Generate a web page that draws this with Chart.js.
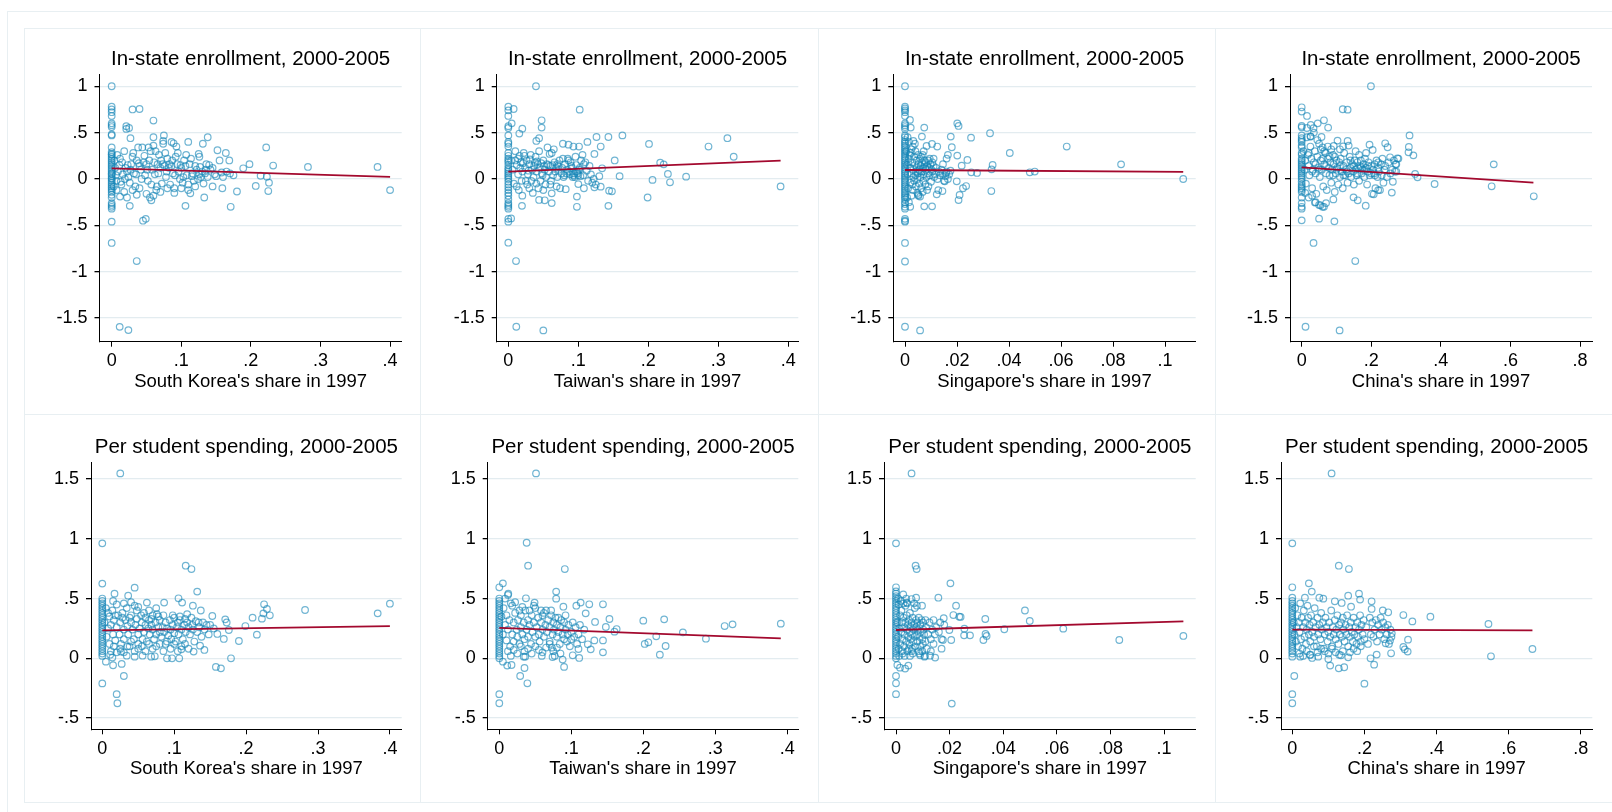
<!DOCTYPE html>
<html>
<head>
<meta charset="utf-8">
<title>Asian shares and outcomes</title>
<script src="https://cdn.jsdelivr.net/npm/chart.js@4.4.1/dist/chart.umd.min.js"></script>
<style>
  body { margin: 0; background: #fff; }
  .frame { position: absolute; border: 1.5px solid #e8eff2; box-sizing: border-box; }
  canvas { position: absolute; }
</style>
</head>
<body>
<div class="frame" style="left:7px; top:11px; width:1620px; height:810px;"></div>
<div id="wrap"></div>
<script>
// tick labels
const enrollTicks = [-1.5, -1, -.5, 0, .5, 1];
const spendTicks = [-.5, 0, .5, 1, 1.5];
const koreaTicks = [0, .1, .2, .3, .4];
const taiwanTicks = [0, .1, .2, .3, .4];
const singTicks = [0, .02, .04, .06, .08, .1];
const chinaTicks = [0, .2, .4, .6, .8];

// In-state enrollment vs share (x, y)
const enrollKorea = [
  [0,1.0],[0,.78],[0,.75],[0,.72],[0,.68],[0,.6],[0,.58],[0,.56],[0,.48],[0,.47],[0,.34],[0,.29],[0,.27],[0,.26],[0,.24],[0,.22],[0,.2],[0,.18],[0,.16],[0,.14],[0,.12],[0,.1],[0,.08],[0,.06],[0,.05],[0,.03],[0,.01],[0,0],[0,-.02],[0,-.04],[0,-.06],[0,-.08],[0,-.1],[0,-.12],[0,-.14],[0,-.17],[0,-.2],[0,-.26],[0,-.28],[0,-.3],[0,-.32],[0,-.46],[0,-.69],
  [.021,.57],[.025,.55],[.021,.54],[.03,.75],[.04,.755],[.06,.63],[.027,.44],[.06,.45],[.075,.47],[.138,.45],[.11,.40],[.131,.38],[.074,.41],[.086,.40],[.089,.385],[.093,.35],[.222,.34],[.152,.31],[.164,.28],[.169,.20],[.125,.27],[.126,.24],[.198,.16],[.189,.115],[.232,.145],[.282,.13],[.382,.13],[.40,-.12],[.207,-.075],[.223,.025],[.214,.035],[.226,-.04],[.225,-.13],[.18,-.135],[.159,-.10],[.145,-.08],[.133,-.20],[.171,-.30],[.106,-.29],[.113,-.155],[.036,-.17],[.045,-.45],[.049,-.43],[.036,-.885],[.0115,-1.595],[.024,-1.63],[.026,-.29],[.057,-.23],[.012,-.19],[.007,-.12],
  [.008,.26],[.012,.22],[.015,.18],[.018,.3],[.02,.12],[.022,.08],[.024,.02],[.026,-.04],[.028,.16],[.03,.24],[.032,.06],[.034,-.08],[.036,.2],[.038,.34],[.04,.14],[.042,.1],[.044,.34],[.046,.18],[.048,.04],[.05,.16],[.052,-.02],[.054,.2],[.056,.3],[.058,.1],[.06,.36],[.062,.05],[.064,-.12],[.066,.16],[.068,.26],[.07,.12],[.072,-.05],[.074,.38],[.076,.14],[.078,.02],[.08,.22],[.082,.12],[.084,-.06],[.086,.14],[.088,.06],[.09,-.1],[.092,.24],[.094,.16],[.096,.08],[.098,0],[.1,.12],[.102,-.04],[.104,.2],[.106,.14],[.108,.04],[.11,-.06],[.112,.16],[.114,.22],[.116,.06],[.118,-.02],[.12,.14],[.122,.1],[.124,0],[.126,.05],[.128,.02],[.13,.08],[.132,-.05],[.134,.06],[.136,.16],[.138,.02],[.14,.15],[.142,.1],[.145,.12],[.148,.05],[.15,.03],[.155,.2],[.158,.07],[.16,.02],[.165,.08],[.17,.06],[.175,.04],
  [.014,-.06],[.018,-.14],[.022,-.2],[.03,-.12],[.04,-.1],[.05,-.16],[.055,-.2],[.06,-.18],[.065,-.08],[.07,-.14],[.08,-.1],[.09,-.15],[.1,-.1],[.11,-.12],[.12,-.08],[.016,.05],[.019,0],[.023,.15],[.027,.1],[.031,.28],[.035,.05],[.039,.17],[.043,0],[.047,.25],[.051,.1],[.053,.34],[.057,-.06],[.061,.18],[.063,.3],[.067,.06],[.071,.2],[.073,.16],[.077,.28],[.079,.08],[.083,.16],[.087,.2],[.091,.04],[.095,.28],[.099,.15],[.103,.02],[.107,.26],[.115,.03],[.127,.13],[.135,.1],[.005,.12],[.006,.04],[.007,-.02],[.009,.08],[.011,.15],[.013,-.03],[.003,-.08],[.004,.2]
];
const enrollTaiwan = [
  [0,.78],[0,.74],[0,.68],[0,.57],[0,.55],[0,.47],[0,.4],[0,.38],[0,.35],[0,.28],[0,.25],[0,.22],[0,.2],[0,.18],[0,.15],[0,.12],[0,.1],[0,.08],[0,.06],[0,.04],[0,.02],[0,0],[0,-.03],[0,-.06],[0,-.09],[0,-.12],[0,-.15],[0,-.18],[0,-.22],[0,-.26],[0,-.28],[0,-.3],[0,-.32],[0,-.46],[0,-.43],[0,-.687],
  [.0395,1.0],[.0076,.755],[.102,.748],[.0476,.633],[.0476,.554],[.0048,.60],[.02,.543],[.0157,.49],[.044,.44],[.040,.41],[.126,.453],[.143,.453],[.163,.47],[.113,.40],[.132,.35],[.078,.38],[.086,.37],[.093,.35],[.101,.35],[.201,.378],[.286,.35],[.313,.44],[.322,.24],[.217,.176],[.222,.158],[.152,.20],[.123,.27],[.134,.115],[.159,.03],[.206,-.01],[.228,.054],[.231,-.036],[.254,.025],[.389,-.08],[.199,-.20],[.143,-.29],[.144,-.126],[.148,-.133],[.132,-.083],[.123,-.09],[.098,-.19],[.098,-.30],[.108,-.10],[.10,-.055],[.062,-.26],[.062,-.155],[.052,-.23],[.044,-.226],[.0195,-.29],[.004,-.425],[.011,-.885],[.0114,-1.594],[.05,-1.633],
  [.004,.2],[.006,.1],[.008,-.05],[.01,.3],[.012,.15],[.014,.05],[.015,-.12],[.016,.25],[.018,.18],[.02,.08],[.02,-.18],[.022,.28],[.024,.12],[.025,-.02],[.026,.2],[.028,.05],[.03,.16],[.03,-.1],[.032,.26],[.034,.1],[.035,-.15],[.036,.02],[.038,.18],[.04,.08],[.04,-.05],[.042,.16],[.044,.3],[.045,.12],[.046,-.02],[.048,.06],[.05,.2],[.05,-.12],[.052,.1],[.054,.02],[.055,.16],[.056,.34],[.058,.08],[.06,.14],[.06,-.06],[.062,.28],[.064,.04],[.066,.18],[.068,.12],[.07,.16],[.07,.02],[.072,.1],[.074,-.1],[.076,.06],[.078,.22],[.08,.04],[.082,-.11],[.084,.1],[.086,.2],[.088,.05],[.09,.14],[.092,.02],[.094,.06],[.096,.24],[.098,.08],[.1,.04],[.102,.12],[.104,.2],[.106,.26],[.108,.16],[.11,.18],[.112,.09],[.114,-.02],[.116,.14],[.118,.05],[.12,-.04],[.122,0],[.125,-.06],[.13,.03],
  [.01,.2],[.012,-.08],[.014,.22],[.017,.12],[.019,-.02],[.021,.17],[.023,.25],[.027,-.06],[.029,.09],[.031,.21],[.033,-.02],[.037,.14],[.039,.24],[.041,.19],[.043,-.1],[.047,.17],[.049,.04],[.051,.14],[.053,-.06],[.057,.15],[.059,.27],[.061,-.02],[.063,.15],[.065,.32],[.067,.08],[.069,-.08],[.071,.14],[.073,.2],[.077,.12],[.079,.02],[.081,.16],[.083,.06],[.085,.22],[.087,.08],[.089,.18],[.091,.12],[.093,.04],[.095,.02],[.097,.15],[.099,.06],[.101,.1],[.103,.03],[.107,.04]
];
const enrollSing = [
  [0,1.0],[0,.78],[0,.76],[0,.74],[0,.72],[0,.68],[0,.6],[0,.58],[0,.56],[0,.54],[0,.47],[0,.45],[0,.42],[0,.4],[0,.38],[0,.36],[0,.34],[0,.32],[0,.3],[0,.28],[0,.26],[0,.24],[0,.22],[0,.2],[0,.18],[0,.16],[0,.14],[0,.12],[0,.1],[0,.08],[0,.06],[0,.04],[0,.02],[0,0],[0,-.02],[0,-.04],[0,-.06],[0,-.08],[0,-.1],[0,-.12],[0,-.14],[0,-.16],[0,-.18],[0,-.2],[0,-.22],[0,-.25],[0,-.27],[0,-.3],[0,-.32],[0,-.43],[0,-.45],[0,-.46],[0,-.69],[0,-.89],[0,-1.594],
  [.0019,.637],[.0022,.554],[.0074,.554],[.0065,.457],[.0032,.41],[.0083,.356],[.0104,.378],[.0124,.35],[.0201,.60],[.0206,.572],[.0176,.457],[.018,.342],[.0254,.446],[.0327,.493],[.0403,.28],[.0622,.35],[.0831,.158],[.107,0],[.0337,.151],[.0333,.104],[.024,.205],[.0201,.252],[.0218,.144],[.0255,.072],[.0277,.065],[.048,.072],[.0499,.08],[.0332,-.13],[.0199,-.025],[.0235,-.076],[.0223,-.10],[.021,-.173],[.0206,-.227],[.0144,-.13],[.0122,-.166],[.0128,-.12],[.0074,-.295],[.0104,-.295],[.0058,-.19],[.0051,-.17],[.0165,.26],[.016,.22],[.011,.22],[.0146,.16],[.0158,.065],[.0153,-.025],[.0058,-1.633],
  [.0005,.3],[.0008,.15],[.001,.05],[.0012,-.1],[.0015,.4],[.0015,.22],[.002,.12],[.002,-.04],[.0022,.28],[.0025,.06],[.0028,.18],[.003,-.12],[.003,.35],[.0032,.1],[.0035,.24],[.0035,-.02],[.0038,.15],[.004,.04],[.004,.3],[.0042,-.08],[.0045,.2],[.0045,.12],[.0048,-.15],[.005,.26],[.005,.06],[.0052,.16],[.0055,-.05],[.0055,.1],[.0058,.22],[.006,.02],[.006,.14],[.0062,-.1],[.0065,.18],[.0065,.08],[.0068,.26],[.007,.12],[.007,-.02],[.0072,.05],[.0075,.2],[.0075,.16],[.0078,-.06],[.008,.1],[.008,.18],[.0082,.02],[.0085,.14],[.0088,.06],[.009,-.08],[.009,.2],[.0092,.12],[.0095,.04],[.0098,.16],[.01,-.03],[.0102,.1],[.0105,.08],[.011,.14],[.0112,.02],[.0115,.05],[.012,.12],[.0125,0],[.013,.08],[.0135,.04],[.014,.1],[.0145,.06],[.015,-.02],[.0155,.03],[.016,.08],[.0165,0],[.017,.05],[.0175,.09],
  [.0012,.18],[.0018,.26],[.0025,.32],[.0028,-.06],[.0032,.02],[.0038,.38],[.0042,.08],[.0048,0],[.0052,-.18],[.0058,.08],[.0062,.24],[.0068,-.14],[.0072,.3],[.0078,.12],[.0085,-.12],[.0095,.22],[.0105,.18],[.0008,-.2],[.0015,-.25],[.002,-.3],[.0025,-.18],[.001,.45]
];
const enrollChina = [
  [0,.773],[0,.727],[0,.572],[0,.557],[0,.47],[0,.44],[0,.42],[0,.4],[0,.36],[0,.34],[0,.28],[0,.26],[0,.22],[0,.2],[0,.18],[0,.16],[0,.14],[0,.12],[0,.1],[0,.08],[0,.06],[0,.04],[0,.02],[0,0],[0,-.03],[0,-.06],[0,-.08],[0,-.1],[0,-.12],[0,-.14],[0,-.2],[0,-.26],[0,-.3],[0,-.32],[0,-.446],
  [.199,1.0],[.118,.752],[.132,.748],[.0153,.68],[.064,.633],[.076,.554],[.046,.60],[.026,.583],[.034,.547],[.026,.457],[.31,.47],[.057,.453],[.103,.414],[.132,.41],[.119,.352],[.092,.356],[.195,.37],[.204,.313],[.24,.385],[.247,.342],[.308,.345],[.307,.288],[.321,.255],[.275,.223],[.272,.158],[.254,.234],[.326,.054],[.333,.018],[.382,-.054],[.552,.158],[.546,-.079],[.667,-.187],[.259,-.147],[.184,-.288],[.149,-.198],[.161,-.23],[.22,-.12],[.207,-.165],[.094,-.457],[.05,-.428],[.034,-.69],[.154,-.885],[.011,-1.594],[.109,-1.633],[.038,-.255],[.064,-.3],[.054,-.284],[.091,-.22],
  [.005,.3],[.008,.1],[.01,.2],[.012,-.05],[.015,.45],[.018,.26],[.02,.14],[.022,.04],[.025,.35],[.028,.22],[.03,-.1],[.032,.1],[.035,.18],[.038,.3],[.04,.06],[.042,-.16],[.045,.24],[.048,.12],[.05,.38],[.052,.02],[.055,.2],[.058,.1],[.06,.34],[.062,-.08],[.065,.16],[.068,.28],[.07,.06],[.072,-.12],[.075,.22],[.078,.12],[.08,.04],[.082,.18],[.085,-.04],[.088,.1],[.09,.26],[.092,.16],[.095,-.14],[.098,.06],[.1,.2],[.102,.12],[.105,-.06],[.108,.18],[.11,.02],[.112,.22],[.115,.08],[.118,-.1],[.12,.14],[.122,.28],[.125,.04],[.128,.1],[.13,.18],[.132,-.04],[.135,.06],[.138,.24],[.14,.12],[.142,.02],[.145,.16],[.148,.08],[.15,-.06],[.152,.2],[.155,.1],[.158,.04],[.16,.18],[.162,.12],[.165,-.02],[.168,.14],[.17,.2],[.172,.06],[.175,.1],[.178,.16],[.18,.02],[.182,.22],[.185,.12],[.188,-.06],[.19,.08],[.192,.18],[.195,.04],[.2,.14],[.202,-.16],[.205,.1],[.208,.06],[.21,.16],[.212,-.1],[.215,.2],[.218,.02],[.22,.12],[.222,.08],[.225,-.12],[.228,.16],[.23,.04],[.232,.22],[.235,-.04],[.238,.1],[.24,.14],[.245,.02],[.25,.18],[.255,.06],[.26,.1],[.262,-.03],[.265,.2],[.268,.08],[.27,.16],[.272,.08],[.278,.22],
  [.01,-.15],[.02,-.2],[.03,-.18],[.04,-.25],[.05,-.28],[.06,-.3],[.07,-.26],[.015,.55],[.025,.46],[.035,.5],[.045,.42],[.055,.32],[.065,.3],[.075,.35],[.085,.32],[.095,.24],[.11,.32],[.135,.36],[.155,.3],[.165,.26],[.185,.28],[.02,.28],[.03,.08],[.04,.16],[.05,.1],[.06,.22],[.07,.14],[.08,.24],[.09,.04],[.1,.1],[.11,.14],[.12,.04],[.13,.08],[.14,.2],[.15,.14],[.16,.06],[.17,.12],[.18,.1],[.19,.14],[.2,.06],[.21,.04],[.22,.18]
];

// Per student spending vs share (x, y)
const spendKorea = [
  [0,.962],[0,.625],[0,.5],[0,.48],[0,.46],[0,.44],[0,.42],[0,.4],[0,.38],[0,.36],[0,.34],[0,.32],[0,.3],[0,.28],[0,.26],[0,.24],[0,.22],[0,.2],[0,.18],[0,.16],[0,.14],[0,.12],[0,.1],[0,.08],[0,.06],[0,.04],[0,.02],[0,-.21],
  [.025,1.547],[.116,.775],[.124,.747],[.132,.558],[.045,.591],[.017,.541],[.036,.524],[.062,.466],[.086,.466],[.106,.502],[.111,.466],[.126,.44],[.137,.40],[.282,.404],[.383,.376],[.40,.457],[.225,.452],[.229,.413],[.233,.36],[.222,.332],[.224,.376],[.209,.34],[.199,.27],[.215,.198],[.19,.145],[.176,.237],[.169,.162],[.16,.204],[.171,.326],[.173,.30],[.153,.354],[.179,0],[.158,-.072],[.165,-.084],[.142,.07],[.136,.106],[.127,.056],[.107,0],[.097,0],[.09,0],[.11,.075],[.073,.017],[.068,.014],[.056,.022],[.045,.014],[.034,.022],[.026,.056],[.027,-.047],[.03,-.148],[.02,-.30],[.021,-.376],[.005,-.028],[.015,-.058],[.011,.03],[.014,.006],
  [.003,.3],[.005,.42],[.006,.18],[.008,.25],[.01,.35],[.01,.12],[.012,.28],[.014,.4],[.015,.2],[.016,.32],[.018,.15],[.02,.26],[.02,.45],[.022,.36],[.024,.2],[.025,.3],[.026,.12],[.028,.38],[.03,.24],[.03,.16],[.032,.32],[.034,.42],[.035,.27],[.036,.2],[.038,.1],[.04,.3],[.04,.36],[.042,.24],[.044,.16],[.045,.44],[.046,.28],[.048,.33],[.05,.2],[.05,.12],[.052,.25],[.054,.36],[.055,.3],[.056,.16],[.058,.22],[.06,.28],[.06,.34],[.062,.14],[.064,.25],[.065,.32],[.066,.2],[.068,.28],[.07,.36],[.07,.24],[.072,.16],[.074,.3],[.075,.2],[.076,.37],[.078,.26],[.08,.22],[.08,.32],[.082,.18],[.084,.26],[.085,.36],[.086,.22],[.088,.12],[.09,.25],[.092,.19],[.094,.32],[.095,.24],[.096,.16],[.098,.28],[.1,.21],[.1,.34],[.102,.14],[.104,.26],[.105,.3],[.106,.2],[.108,.35],[.11,.24],[.112,.16],[.114,.28],[.115,.33],[.116,.22],[.118,.3],[.12,.26],[.122,.2],[.124,.34],[.125,.28],[.126,.24],[.128,.14],[.13,.31],[.132,.22],[.134,.3],[.135,.26],[.138,.18],[.14,.3],[.142,.24],[.145,.28],[.148,.2],[.15,.28],[.155,.25],
  [.012,.06],[.016,.1],[.02,.05],[.025,.08],[.03,.05],[.035,.1],[.04,.14],[.045,.06],[.05,.08],[.055,.1],[.06,.06],[.065,.12],[.07,.08],[.075,.1],[.08,.12],[.085,.06],[.09,.14],[.095,.08],[.1,.12],[.105,.06],[.11,.1],[.115,.12],[.12,.08],[.04,.47],[.05,.43],[.065,.4],[.075,.42],[.008,.38],[.015,.48],[.03,.46],[.018,.36],[.028,.34],[.038,.34],[.048,.4],[.058,.38],[.068,.33],[.078,.35],[.088,.3],[.098,.36],[.108,.32],[.118,.37]
];
const spendTaiwan = [
  [0,.5],[0,.48],[0,.46],[0,.44],[0,.42],[0,.4],[0,.38],[0,.36],[0,.34],[0,.32],[0,.3],[0,.28],[0,.26],[0,.24],[0,.22],[0,.2],[0,.18],[0,.16],[0,.14],[0,.12],[0,.1],[0,.08],[0,.06],[0,.04],[0,.02],[0,0],[0,.594],[0,-.30],[0,-.376],
  [.051,1.547],[.038,.967],[.04,.775],[.091,.747],[.005,.627],[.079,.558],[.079,.499],[.0125,.541],[.037,.502],[.049,.466],[.113,.466],[.125,.452],[.144,.452],[.107,.44],[.089,.432],[.12,.376],[.153,.329],[.133,.304],[.2,.315],[.229,.326],[.313,.27],[.324,.284],[.391,.29],[.255,.217],[.287,.164],[.218,.184],[.202,.12],[.207,.134],[.231,.103],[.223,.03],[.163,.245],[.16,.223],[.148,.262],[.144,.15],[.132,.15],[.144,.05],[.123,.117],[.127,.075],[.111,.003],[.11,.078],[.102,.025],[.088,-.011],[.09,-.072],[.077,.02],[.074,.011],[.073,.089],[.035,-.081],[.039,-.209],[.029,-.148],[.005,-.028],[.011,-.061],[.017,-.056],[.036,.014],[.034,.014],[.059,.02],
  [.003,.35],[.005,.2],[.006,.42],[.008,.28],[.01,.15],[.01,.36],[.012,.24],[.014,.32],[.015,.1],[.016,.46],[.018,.2],[.02,.3],[.02,.14],[.022,.38],[.024,.24],[.025,.18],[.026,.32],[.028,.12],[.03,.26],[.03,.36],[.032,.2],[.034,.3],[.035,.16],[.036,.4],[.038,.24],[.04,.18],[.04,.32],[.042,.28],[.044,.12],[.045,.36],[.046,.22],[.048,.3],[.05,.18],[.05,.42],[.052,.26],[.054,.34],[.055,.2],[.056,.14],[.058,.3],[.06,.24],[.06,.36],[.062,.18],[.064,.28],[.065,.4],[.066,.22],[.068,.32],[.07,.26],[.07,.14],[.072,.36],[.074,.2],[.075,.3],[.076,.24],[.078,.34],[.08,.18],[.08,.28],[.082,.22],[.084,.12],[.085,.26],[.086,.32],[.088,.2],[.09,.16],[.09,.3],[.092,.24],[.094,.14],[.095,.2],[.096,.28],[.098,.1],[.1,.22],[.1,.16],[.102,.3],[.104,.18],[.106,.26],[.108,.12],[.11,.2],[.112,.28],[.115,.16],[.118,.24],
  [.012,.06],[.016,.02],[.02,.07],[.025,.04],[.03,.1],[.035,.06],[.04,.08],[.045,.04],[.05,.1],[.055,.07],[.06,.05],[.065,.09],[.07,.12],[.075,.06],[.08,.09],[.085,.04],[.008,.5],[.012,.53],[.018,.44],[.022,.47],[.028,.4],[.032,.43],[.042,.4],[.048,.44],[.058,.4],[.062,.38],[.072,.4],[.082,.34],[.092,.36]
];
const spendSing = [
  [0,.962],[0,.594],[0,.56],[0,.54],[0,.52],[0,.5],[0,.48],[0,.46],[0,.44],[0,.42],[0,.4],[0,.38],[0,.36],[0,.34],[0,.32],[0,.3],[0,.28],[0,.26],[0,.24],[0,.22],[0,.2],[0,.18],[0,.16],[0,.14],[0,.12],[0,.1],[0,.08],[0,.06],[0,.04],[0,.02],[0,0],[0,-.148],[0,-.209],[0,-.30],
  [.0058,1.547],[.0073,.775],[.0077,.747],[.0203,.627],[.0158,.507],[.0224,.44],[.0075,.507],[.0058,.496],[.0027,.535],[.004,.466],[.0097,.44],[.0481,.40],[.0499,.312],[.0333,.329],[.0178,.335],[.0214,.362],[.0236,.348],[.0241,.346],[.0255,.248],[.0624,.248],[.0404,.243],[.0334,.204],[.0338,.187],[.0326,.153],[.0276,.192],[.0254,.192],[.0206,.153],[.0175,.153],[.0199,.237],[.017,.081],[.0833,.153],[.1072,.187],[.0208,-.379],[.0146,.006],[.0127,.022],[.0106,.014],[.009,.025],[.0046,-.061],[.0034,-.086],[.0015,-.078],[.0005,-.056],
  [.0005,.3],[.0008,.18],[.001,.45],[.001,.08],[.0012,.25],[.0015,.36],[.0015,.12],[.002,.22],[.002,.4],[.0022,.3],[.0025,.16],[.0025,.04],[.0028,.34],[.003,.26],[.003,.1],[.0032,.2],[.0035,.44],[.0035,.3],[.0038,.14],[.004,.24],[.004,.36],[.0042,.06],[.0045,.28],[.0045,.18],[.0048,.32],[.005,.22],[.005,.12],[.0052,.38],[.0055,.26],[.0055,.16],[.0058,.3],[.006,.2],[.006,.08],[.0062,.34],[.0065,.24],[.0065,.14],[.0068,.28],[.007,.18],[.007,.42],[.0072,.1],[.0075,.26],[.0075,.32],[.0078,.2],[.008,.14],[.008,.3],[.0082,.24],[.0085,.06],[.0085,.34],[.0088,.18],[.009,.28],[.009,.1],[.0092,.22],[.0095,.32],[.0098,.16],[.01,.3],[.01,.12],[.0102,.24],[.0105,.2],[.011,.32],[.011,.14],[.0112,.26],[.0115,.08],[.012,.2],[.0125,.3],[.013,.16],[.013,.06],[.0135,.24],[.014,.12],[.014,.32],[.0145,.2],[.015,.26],[.016,.22],[.0165,.3],[.017,.16],[.018,.28],
  [.0008,.5],[.0012,.02],[.0018,.48],[.0022,.06],[.0028,.46],[.0032,.02],[.0038,.5],[.0042,.46],[.0048,.08],[.0052,.02],[.0058,.06],[.0062,.04],[.0068,.46],[.0078,.44],[.0088,.04],[.0098,.06],[.0108,.02]
];
const spendChina = [
  [0,.962],[0,.594],[0,.507],[0,.48],[0,.46],[0,.44],[0,.42],[0,.4],[0,.38],[0,.36],[0,.34],[0,.32],[0,.3],[0,.28],[0,.26],[0,.24],[0,.22],[0,.2],[0,.18],[0,.16],[0,.14],[0,.12],[0,.1],[0,.08],[0,.06],[0,.04],[0,.014],[0,-.30],[0,-.376],
  [.109,1.547],[.129,.775],[.157,.747],[.046,.627],[.054,.558],[.155,.524],[.185,.541],[.188,.491],[.22,.477],[.035,.507],[.075,.507],[.086,.499],[.118,.477],[.137,.463],[.163,.432],[.22,.413],[.251,.40],[.266,.385],[.308,.362],[.333,.309],[.383,.348],[.544,.287],[.321,.156],[.308,.095],[.312,.075],[.32,.056],[.274,.042],[.271,.148],[.276,.209],[.259,.125],[.234,.031],[.217,0],[.227,-.053],[.2,-.212],[.551,.017],[.666,.078],[.1,-.006],[.105,-.061],[.129,-.084],[.144,-.075],[.135,.025],[.155,.008],[.0055,-.148],[.022,.014],[.049,.028],[.055,.003],[.072,.014],
  [.004,.3],[.006,.2],[.008,.42],[.01,.14],[.012,.26],[.014,.36],[.016,.1],[.018,.3],[.02,.22],[.022,.46],[.024,.16],[.026,.34],[.028,.08],[.03,.26],[.032,.4],[.034,.18],[.036,.3],[.038,.12],[.04,.24],[.042,.44],[.044,.34],[.046,.2],[.048,.28],[.05,.14],[.052,.36],[.055,.22],[.058,.3],[.06,.18],[.062,.42],[.065,.26],[.068,.1],[.07,.34],[.072,.2],[.075,.28],[.078,.16],[.08,.38],[.082,.24],[.085,.3],[.088,.08],[.09,.2],[.092,.34],[.095,.26],[.098,.14],[.1,.22],[.102,.3],[.105,.18],[.108,.4],[.11,.1],[.112,.26],[.115,.2],[.118,.32],[.12,.16],[.122,.24],[.125,.36],[.128,.12],[.13,.28],[.132,.2],[.135,.3],[.138,.18],[.14,.34],[.142,.24],[.145,.14],[.148,.28],[.15,.2],[.152,.36],[.155,.1],[.158,.26],[.16,.18],[.162,.3],[.165,.22],[.168,.14],[.17,.34],[.172,.2],[.175,.26],[.178,.12],[.18,.3],[.182,.18],[.185,.24],[.188,.36],[.19,.14],[.192,.28],[.195,.2],[.198,.32],[.2,.16],[.205,.26],[.21,.12],[.215,.34],[.218,.2],[.222,.3],[.225,.18],[.228,.24],[.232,.32],[.235,.14],[.238,.28],[.242,.2],[.245,.34],[.248,.24],[.252,.3],[.255,.16],[.258,.26],[.262,.2],[.265,.28],[.268,.12],[.272,.24],[.275,.18],
  [.02,.04],[.03,.02],[.04,.06],[.05,.03],[.06,.1],[.07,.05],[.08,.08],[.09,.06],[.1,.04],[.11,.08],[.12,.05],[.13,.03],[.14,.06],[.16,.05],[.17,.08],[.18,.06],[.19,.1]
];

// fitted lines (endpoints)
const fitEnrollKorea = [[0, .115], [.4, .022]];
const fitEnrollTaiwan = [[0, .08], [.389, .198]];
const fitEnrollSing = [[0, .097], [.107, .076]];
const fitEnrollChina = [[0, .126], [.666, -.04]];
const fitSpendKorea = [[0, .234], [.4, .27]];
const fitSpendTaiwan = [[0, .255], [.391, .167]];
const fitSpendSing = [[0, .237], [.1072, .309]];
const fitSpendChina = [[0, .24], [.666, .234]];

const cols = [{x: 24, w: 396}, {x: 420, w: 398}, {x: 818, w: 397}, {x: 1215, w: 397}];
const rows = [{y: 28, h: 386}, {y: 414, h: 388}];

const panels = [
  {row: 0, col: 0, title: 'In-state enrollment, 2000-2005', xTitle: "South Korea's share in 1997", pts: enrollKorea, fit: fitEnrollKorea, xTicks: koreaTicks, yTicks: enrollTicks, xr: [-.0175, .4167], yr: [-1.755, 1.129], plot: {l: 99.5, r: 401.7, t: 74.3, b: 341.7}},
  {row: 0, col: 1, title: 'In-state enrollment, 2000-2005', xTitle: "Taiwan's share in 1997", pts: enrollTaiwan, fit: fitEnrollTaiwan, xTicks: taiwanTicks, yTicks: enrollTicks, xr: [-.0166, .4143], yr: [-1.755, 1.129], plot: {l: 496.7, r: 798.3, t: 74.3, b: 341.7}},
  {row: 0, col: 2, title: 'In-state enrollment, 2000-2005', xTitle: "Singapore's share in 1997", pts: enrollSing, fit: fitEnrollSing, xTicks: singTicks, yTicks: enrollTicks, xr: [-.0045, .1118], yr: [-1.755, 1.129], plot: {l: 893.3, r: 1195.7, t: 74.3, b: 341.7}},
  {row: 0, col: 3, title: 'In-state enrollment, 2000-2005', xTitle: "China's share in 1997", pts: enrollChina, fit: fitEnrollChina, xTicks: chinaTicks, yTicks: enrollTicks, xr: [-.0336, .8344], yr: [-1.755, 1.129], plot: {l: 1290, r: 1592, t: 74.3, b: 341.7}},
  {row: 1, col: 0, title: 'Per student spending, 2000-2005', xTitle: "South Korea's share in 1997", pts: spendKorea, fit: fitSpendKorea, xTicks: koreaTicks, yTicks: spendTicks, xr: [-.0157, .4164], yr: [-.594, 1.64], plot: {l: 91, r: 401.7, t: 462.3, b: 729.3}},
  {row: 1, col: 1, title: 'Per student spending, 2000-2005', xTitle: "Taiwan's share in 1997", pts: spendTaiwan, fit: fitSpendTaiwan, xTicks: taiwanTicks, yTicks: spendTicks, xr: [-.0161, .4153], yr: [-.594, 1.64], plot: {l: 487.7, r: 798.3, t: 462.3, b: 729.3}},
  {row: 1, col: 2, title: 'Per student spending, 2000-2005', xTitle: "Singapore's share in 1997", pts: spendSing, fit: fitSpendSing, xTicks: singTicks, yTicks: spendTicks, xr: [-.00448, .1118], yr: [-.594, 1.64], plot: {l: 884, r: 1195.7, t: 462.3, b: 729.3}},
  {row: 1, col: 3, title: 'Per student spending, 2000-2005', xTitle: "China's share in 1997", pts: spendChina, fit: fitSpendChina, xTicks: chinaTicks, yTicks: spendTicks, xr: [-.0313, .832], yr: [-.594, 1.64], plot: {l: 1281, r: 1592.3, t: 462.3, b: 729.3}}
];

Chart.defaults.font.family = "'Liberation Sans', Arial, Helvetica, sans-serif";
Chart.defaults.color = '#111';

// Stata style: .5 instead of 0.5
function stataLabel(v) {
    if (v === 0) return '0';
    return String(v).replace(/^(-?)0\./, '$1.');
}

const wrap = document.getElementById('wrap');
const gridColor = '#e3ecf0';
const titleSize = 20.5, titleLH = titleSize * 1.2, titleGap = 2.7;
const xAxisH = 51;

panels.forEach(p => {
    const c = cols[p.col], r = rows[p.row];

    const frame = document.createElement('div');
    frame.className = 'frame';
    frame.style.cssText = `left:${c.x}px; top:${r.y}px; width:${c.w + 1}px; height:${r.h + 1}px;`;
    wrap.appendChild(frame);

    const canvas = document.createElement('canvas');
    canvas.width = c.w;
    canvas.height = r.h;
    canvas.style.left = c.x + 'px';
    canvas.style.top = r.y + 'px';
    wrap.appendChild(canvas);

    const yAxisW = p.plot.l - c.x;
    const padTop = p.plot.t - r.y - titleLH - titleGap;
    const padRight = c.x + c.w - p.plot.r;
    const padBottom = r.y + r.h - p.plot.b - xAxisH;

    new Chart(canvas, {
        type: 'scatter',
        data: {
            datasets: [
                {
                    data: p.fit.map(d => ({x: d[0], y: d[1]})),
                    showLine: true,
                    borderColor: '#a3092e',
                    borderWidth: 1.8,
                    pointRadius: 0
                },
                {
                    data: p.pts.map(d => ({x: d[0], y: d[1]})),
                    pointStyle: 'circle',
                    pointRadius: 3.3,
                    borderWidth: 1.2,
                    borderColor: 'rgba(18,132,182,0.6)',
                    backgroundColor: 'rgba(0,0,0,0)'
                }
            ]
        },
        options: {
            responsive: false,
            animation: false,
            devicePixelRatio: 1,
            layout: {padding: {top: padTop, right: padRight, bottom: padBottom, left: 0}},
            plugins: {
                legend: {display: false},
                tooltip: {enabled: false},
                title: {
                    display: true,
                    text: p.title,
                    fullSize: false,
                    color: '#000',
                    font: {size: titleSize, weight: 'normal'},
                    padding: {top: 0, bottom: titleGap}
                }
            },
            scales: {
                x: {
                    type: 'linear',
                    min: p.xr[0],
                    max: p.xr[1],
                    afterBuildTicks: s => { s.ticks = p.xTicks.map(v => ({value: v})); },
                    afterFit: s => { s.height = xAxisH; },
                    grid: {drawOnChartArea: false, tickLength: 5, tickColor: '#000'},
                    border: {color: '#000', width: 1},
                    ticks: {padding: 4, color: '#000', font: {size: 18}, maxRotation: 0, autoSkip: false, callback: v => stataLabel(v)},
                    title: {display: true, text: p.xTitle, color: '#000', font: {size: 18.5}, padding: 0}
                },
                y: {
                    type: 'linear',
                    min: p.yr[0],
                    max: p.yr[1],
                    afterBuildTicks: s => { s.ticks = p.yTicks.map(v => ({value: v})); },
                    afterFit: s => { s.width = yAxisW; },
                    grid: {color: gridColor, lineWidth: 1.3, tickLength: 5, tickColor: '#000'},
                    border: {color: '#000', width: 1},
                    ticks: {padding: 7, color: '#000', font: {size: 18}, autoSkip: false, callback: v => stataLabel(v)}
                }
            }
        }
    });
});
</script>
</body>
</html>
